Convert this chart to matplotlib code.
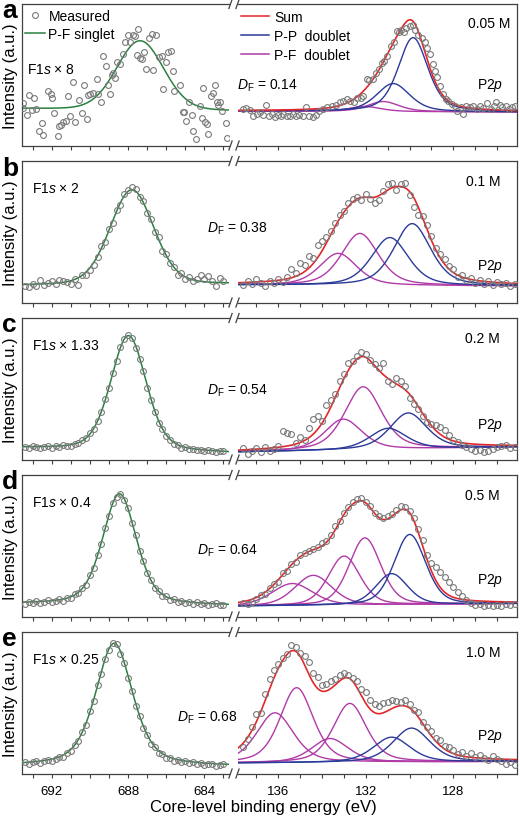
import numpy as np
import matplotlib.pyplot as plt
from matplotlib.lines import Line2D
from matplotlib.ticker import MultipleLocator

plt.rcParams['font.family'] = ['Liberation Sans', 'DejaVu Sans']
plt.rcParams['mathtext.fontset'] = 'custom'
plt.rcParams['mathtext.rm'] = 'Liberation Sans'
plt.rcParams['mathtext.it'] = 'Liberation Sans:italic'

letters = ['a', 'b', 'c', 'd', 'e']
f1s_scale = ['8', '2', '1.33', '0.4', '0.25']
conc = ['0.05 M', '0.1 M', '0.2 M', '0.5 M', '1.0 M']
d_f = ['0.14', '0.38', '0.54', '0.64', '0.68']

# F1s singlet fit (centre eV, height, fwhm eV, lorentz fraction), background at high / low BE end
f1s_centre = [687.37, 687.8, 687.98, 688.45, 688.73]
f1s_height = [69, 95, 115, 111, 123]
f1s_fwhm = [2.9, 2.7, 2.2, 2.1, 2.3]
f1s_eta = [0.1, 0.2, 0.3, 0.4, 0.5]
f1s_bg_hi = [37, 17, 11.5, 12.5, 7.5]
f1s_bg_lo = [34.8, 18.5, 6.5, 10.8, 7.0]

# P2p components (centre eV, height, fwhm eV)
pp_a = [(129.84, 74, 1.6), (130.75, 28, 1.8)]
pf_a = [(131.2, 10, 1.7), (132.05, 5, 1.7)]
pp_b = [(129.88, 62, 2.0), (130.9, 48, 2.0)]
pf_b = [(132.27, 52, 2.0), (133.26, 32, 2.0)]
pp_c = [(130.06, 36, 2.0), (130.98, 21, 2.0)]
pf_c = [(132.12, 63, 2.0), (133.03, 31, 2.0)]
pp_d = [(129.99, 70, 1.7), (130.82, 31, 1.7)]
pf_d = [(132.04, 67, 1.7), (132.99, 49, 1.7), (134.4, 30, 2.0), (135.36, 22, 2.2)]
pp_e = [(129.91, 34, 2.0), (130.82, 25, 2.0)]
pf_e = [(136.15, 50, 2.0), (135.16, 75, 1.8), (133.64, 24, 2.0), (132.73, 59, 1.8)]
pp_all = [pp_a, pp_b, pp_c, pp_d, pp_e]
pf_all = [pf_a, pf_b, pf_c, pf_d, pf_e]
p2p_eta = [0.45, 0.45, 0.45, 0.3, 0.45]
p2p_bg_hi = [34.5, 17.5, 7.5, 10.5, 10.5]
p2p_bg_lo = [33.5, 16.5, 12.5, 13, 12]

# measured points, panel a (energy eV, intensity)
f1s_a_E = [693.53, 693.49, 693.28, 693.18, 693.05, 692.91, 692.83, 692.65, 692.53, 692.44,
           692.18, 692.06, 692.01, 691.87, 691.66, 691.60, 691.52, 691.39, 691.27, 691.17,
           691.04, 690.90, 690.78, 690.56, 690.43, 690.31, 690.17, 690.08, 690.00, 689.86,
           689.65, 689.56, 689.44, 689.30, 689.16, 689.04, 688.95, 688.86, 688.77, 688.69,
           688.60, 688.42, 688.28, 688.16, 687.99, 687.90, 687.76, 687.64, 687.55, 687.46,
           687.38, 687.29, 687.17, 687.06, 686.89, 686.76, 686.68, 686.54, 686.36, 686.24,
           686.15, 686.01, 685.89, 685.77, 685.66, 685.59, 685.28, 685.14, 685.07, 684.96,
           684.79, 684.67, 684.58, 684.44, 684.23, 684.14, 684.06, 683.97, 683.88, 683.79,
           683.67, 683.53, 683.44, 683.36, 683.27, 683.18, 683.10, 682.87, 682.83]
f1s_a_I = [42.5, 37.2, 30.5, 50.5, 35.8, 47.2, 36.5, 14.8, 22.5, 10.5,
           54.8, 51.5, 47.2, 32.5, 9.2, 19.2, 20.5, 23.8, 24.8, 49.8,
           29.8, 63.2, 23.2, 45.8, 32.5, 60.5, 26.5, 50.5, 51.5, 52.5,
           66.5, 51.5, 43.8, 89.2, 79.2, 60.5, 51.5, 70.5, 72.5, 67.8,
           83.8, 81.5, 91.5, 103.2, 110.5, 103.2, 110.5, 109.8, 90.5, 116.5,
           87.2, 86.5, 93.8, 76.5, 107.2, 111.5, 75.8, 110.5, 88.2, 89.2,
           56.5, 83.2, 93.2, 94.8, 74.8, 54.8, 60.5, 33.8, 33.8, 24.8,
           43.2, 30.5, 14.8, 6.5, 39.8, 27.2, 57.2, 23.2, 21.5, 11.5,
           49.8, 52.5, 60.5, 43.8, 40.5, 43.8, 34.8, 22.5, 7.2]
p2p_a_E = [137.63, 137.47, 137.29, 137.14, 136.99, 136.84, 136.68, 136.56, 136.41, 136.30,
           136.15, 136.00, 135.89, 135.77, 135.62, 135.47, 135.31, 135.19, 135.04, 134.89,
           134.74, 134.58, 134.43, 134.28, 134.13, 133.94, 133.79, 133.56, 133.37, 133.18,
           133.03, 132.88, 132.73, 132.54, 132.42, 132.24, 132.12, 131.96, 131.84, 131.69,
           131.54, 131.39, 131.28, 131.17, 131.02, 130.87, 130.72, 130.59, 130.47, 130.37,
           130.26, 130.14, 129.99, 129.86, 129.74, 129.60, 129.45, 129.30, 129.19, 129.07,
           128.95, 128.84, 128.74, 128.62, 128.46, 128.34, 128.24, 128.08, 127.93, 127.83,
           127.67, 127.55, 127.40, 127.25, 127.09, 126.94, 126.79, 126.64, 126.45, 126.30,
           126.15, 126.03, 125.88, 125.76, 125.60, 125.45, 125.30, 125.17]
p2p_a_I = [36.5, 37.2, 35.8, 29.8, 31.5, 33.2, 30.5, 40.5, 29.2, 31.5,
           28.2, 30.5, 29.2, 31.5, 29.8, 29.2, 31.5, 29.2, 30.5, 29.8,
           38.2, 29.8, 28.2, 30.5, 34.8, 36.5, 38.2, 39.8, 40.5, 43.2,
           44.8, 46.5, 44.8, 43.8, 47.2, 47.8, 49.8, 66.5, 65.8, 66.5,
           72.5, 76.5, 82.5, 84.8, 89.8, 99.8, 103.2, 114.8, 113.2, 115.8,
           113.2, 117.2, 119.2, 120.5, 115.8, 110.5, 107.2, 103.2, 97.2, 91.5,
           81.5, 74.8, 68.2, 59.8, 51.5, 46.5, 44.8, 41.5, 39.2, 34.8,
           38.2, 31.5, 39.2, 38.2, 39.8, 36.5, 39.2, 37.2, 42.5, 36.5,
           39.2, 43.2, 40.5, 38.2, 39.8, 36.5, 38.2, 39.2]

# measured points, panels b-e, on the 0.2 eV scan grid
f1s_b_I = [17, 16, 19, 17, 23, 18, 20, 22, 19, 23, 22, 21, 19, 24, 18, 28, 28, 33, 38, 46,
           57, 61, 74, 80, 93, 98, 109, 113, 116, 114, 106, 102, 90, 84, 71, 66, 52, 49, 40, 36,
           28, 30, 24, 26, 22, 24, 28, 24, 27, 22, 17, 25, 22]
f1s_c_I = [13, 12, 14, 13, 12, 13, 14, 12, 14, 13, 15, 14, 14, 16, 17, 20, 22, 27, 31, 39,
           48, 61, 72, 87, 99, 113, 121, 125, 122, 112, 101, 89, 72, 60, 48, 37, 31, 24, 20, 16,
           15, 12, 13, 11, 11, 10, 10, 9, 10, 9, 8, 9, 9]
f1s_d_I = [13, 15, 14, 16, 14, 15, 17, 15, 16, 18, 16, 19, 19, 23, 24, 29, 32, 42, 49, 62,
           73, 89, 101, 114, 120, 123, 117, 109, 94, 82, 66, 56, 44, 37, 29, 26, 21, 21, 17, 18,
           15, 16, 14, 15, 13, 15, 13, 14, 12, 13, 14, 12, 12]
f1s_e_I = [12, 10, 12, 13, 11, 13, 14, 13, 15, 17, 17, 21, 23, 29, 33, 42, 49, 63, 73, 89,
           100, 115, 124, 131, 130, 120, 111, 96, 83, 68, 58, 46, 39, 30, 27, 21, 20, 16, 16, 13,
           14, 12, 13, 11, 12, 10, 11, 9, 10, 10, 8, 9, 10]
p2p_b_I = [18, 22, 19, 24, 20, 17, 22, 20, 24, 21, 26, 34, 30, 40, 38, 47, 45, 58, 62, 66,
           72, 80, 88, 92, 100, 104, 106, 103, 109, 104, 100, 103, 112, 119, 120, 113, 119, 120,
           108, 96, 88, 87, 78, 67, 55, 49, 44, 37, 34, 26, 28, 23, 25, 20, 23, 19, 22, 18, 21,
           19, 20, 17, 19]
p2p_c_I = [12, 6, 9, 12, 8, 13, 9, 11, 14, 29, 27, 26, 17, 23, 20, 32, 41, 44, 39, 55,
           60, 66, 79, 86, 97, 99, 104, 108, 106, 100, 96, 92, 97, 79, 76, 82, 79, 74, 62, 56,
           51, 44, 38, 36, 35, 33, 30, 25, 20, 18, 15, 13, 11, 9, 10, 8, 9, 11, 13, 14,
           15, 12, 13]
p2p_d_I = [14, 13, 15, 18, 22, 23, 29, 33, 35, 44, 46, 53, 55, 62, 64, 66, 68, 70, 74, 76,
           82, 91, 96, 104, 110, 115, 118, 119, 115, 111, 104, 101, 99, 101, 103, 107, 111, 110,
           106, 99, 88, 77, 62, 54, 50, 45, 40, 35, 30, 25, 21, 17, 14, 12, 13, 11, 12, 11, 12,
           11, 13, 12, 13]
p2p_e_I = [27, 35, 47, 60, 61, 80, 95, 104, 110, 116, 120, 129, 127, 121, 118, 112, 101, 97,
           89, 90, 93, 95, 99, 101, 99, 96, 93, 85, 82, 74, 70, 68, 71, 72, 74, 73, 72, 74, 70,
           64, 62, 52, 47, 43, 36, 34, 28, 27, 24, 20, 22, 18, 21, 17, 19, 16, 14, 18, 15, 13,
           10, 12, 9]

GREEN = '#2a8040'
RED = '#e3262a'
BLUE = '#2b3a98'
MAG = '#b03aa8'
AXC = '#404040'
PTC = '#7a7a7a'


def pv(E, c, h, w, eta):
    # pseudo-Voigt line shape
    x = (E - c) / w
    return h * ((1 - eta) * np.exp(-4 * np.log(2) * x**2) + eta / (1 + 4 * x**2))


W, H = 520, 820
tops = [5, 162, 319, 476, 633]
ph = 141.5
xl_L = (693.56, 682.71)
xl_R = (137.84, 125.09)
grid_L = np.arange(693.4, 682.95, -0.2)
grid_R = np.arange(137.6, 125.15, -0.2)
meas_L = [(f1s_a_E, f1s_a_I), (grid_L, f1s_b_I), (grid_L, f1s_c_I), (grid_L, f1s_d_I),
          (grid_L, f1s_e_I)]
meas_R = [(p2p_a_E, p2p_a_I), (grid_R, p2p_b_I), (grid_R, p2p_c_I), (grid_R, p2p_d_I),
          (grid_R, p2p_e_I)]


def box(x0, x1, top):
    return [x0 / W, 1 - (top + ph) / H, (x1 - x0) / W, ph / H]


fig = plt.figure(figsize=(5.2, 8.2), dpi=100)
EL = np.linspace(xl_L[0], xl_L[1], 400)
ER = np.linspace(xl_R[0], xl_R[1], 500)

for i in range(5):
    top = tops[i]
    axL = fig.add_axes(box(22, 229, top))
    axR = fig.add_axes(box(238, 517, top))

    bgL = f1s_bg_lo[i] + (f1s_bg_hi[i] - f1s_bg_lo[i]) * (EL - xl_L[1]) / (xl_L[0] - xl_L[1])
    fitL = bgL + pv(EL, f1s_centre[i], f1s_height[i], f1s_fwhm[i], f1s_eta[i])
    axL.plot(EL, fitL, color=GREEN, lw=1.1)

    bgR = p2p_bg_lo[i] + (p2p_bg_hi[i] - p2p_bg_lo[i]) * (ER - xl_R[1]) / (xl_R[0] - xl_R[1])
    total = bgR.copy()
    for (c, h, w) in pf_all[i]:
        y = pv(ER, c, h, w, p2p_eta[i])
        total += y
        axR.plot(ER, bgR + y, color=MAG, lw=1.0)
    for (c, h, w) in pp_all[i]:
        y = pv(ER, c, h, w, p2p_eta[i])
        total += y
        axR.plot(ER, bgR + y, color=BLUE, lw=1.0)
    axR.plot(ER, total, color=RED, lw=1.2)

    for ax, m in ((axL, meas_L[i]), (axR, meas_R[i])):
        ax.plot(m[0], m[1], ls='none', marker='o', ms=4.2, mfc='none', mec=PTC, mew=0.8,
                zorder=3)

    for ax, xl in ((axL, xl_L), (axR, xl_R)):
        ax.set_xlim(*xl)
        ax.set_ylim(0, ph)
        ax.set_yticks([])
        ax.xaxis.set_minor_locator(MultipleLocator(1))
        ax.tick_params(axis='x', which='both', direction='out', length=3.2, width=0.8,
                       color=AXC, labelsize=9.5, pad=5, labelbottom=(i == 4))
        for s in ax.spines.values():
            s.set_color(AXC)
            s.set_linewidth(0.9)
    axL.set_xticks([692, 688, 684])
    axR.set_xticks([136, 132, 128])
    axL.spines['right'].set_visible(False)
    axR.spines['left'].set_visible(False)

    axL.set_ylabel('Intensity (a.u.)', fontsize=12)
    axL.yaxis.set_label_coords(-0.02, 0.5)

    fig.text(2 / W, 1 - (top + 13.5) / H, letters[i], fontsize=19, fontweight='bold',
             ha='left', va='baseline')

    if i == 0:
        axL.text(0.023, 0.54, 'F1$\\mathit{s}$ × ' + f1s_scale[i], transform=axL.transAxes,
                 fontsize=10, va='center')
        axR.text((510 - 238) / 279, 0.865, conc[i], transform=axR.transAxes, fontsize=10,
                 ha='right', va='center')
    else:
        axL.text(0.05, 0.81, 'F1$\\mathit{s}$ × ' + f1s_scale[i], transform=axL.transAxes,
                 fontsize=10, va='center')
        axR.text((500 - 238) / 279, 0.86, conc[i], transform=axR.transAxes, fontsize=10,
                 ha='right', va='center')
    p2p_y = [0.43, 0.265, 0.244, 0.26, 0.27][i]
    axR.text((503 - 238) / 279, p2p_y, 'P2$\\mathit{p}$', transform=axR.transAxes,
             fontsize=10, ha='right', va='center')

    df_x = [237, 207, 207, 197, 177][i]
    df_y = [86, 229, 391, 551, 718][i]
    fig.text(df_x / W, 1 - df_y / H, '$\\mathit{D}_\\mathrm{F}$ = ' + d_f[i], fontsize=10,
             ha='left', va='center')

    if i == 0:
        h1 = Line2D([], [], ls='none', marker='o', ms=4.2, mfc='none', mec=PTC, mew=0.8)
        h2 = Line2D([], [], color=GREEN, lw=1.1)
        axL.legend([h1, h2], ['Measured', 'P-F singlet'], loc='upper left', frameon=False,
                   bbox_to_anchor=(0.0, 0.985), fontsize=10, handlelength=1.45,
                   handletextpad=0.25, labelspacing=0.3, borderpad=0.2, borderaxespad=0)
        hr = [Line2D([], [], color=c, lw=1.1) for c in (RED, BLUE, MAG)]
        axR.legend(hr, ['Sum', 'P-P  doublet', 'P-F  doublet'], loc='upper left',
                   frameon=False, bbox_to_anchor=(0.0, 0.98), fontsize=10, handlelength=2.0,
                   handletextpad=0.4, labelspacing=0.38, borderpad=0.2, borderaxespad=0)

    # axis break marks
    for yy in (top, top + ph):
        for xx in (230.5, 237.5):
            fig.add_artist(Line2D([(xx - 1.6) / W, (xx + 1.6) / W],
                                  [1 - (yy + 4.5) / H, 1 - (yy - 4.5) / H],
                                  color=AXC, lw=0.9, transform=fig.transFigure))

fig.text(263 / W, 1 - 808 / H, 'Core-level binding energy (eV)', fontsize=12,
         ha='center', va='center')

fig.savefig('out.png', dpi=100)
